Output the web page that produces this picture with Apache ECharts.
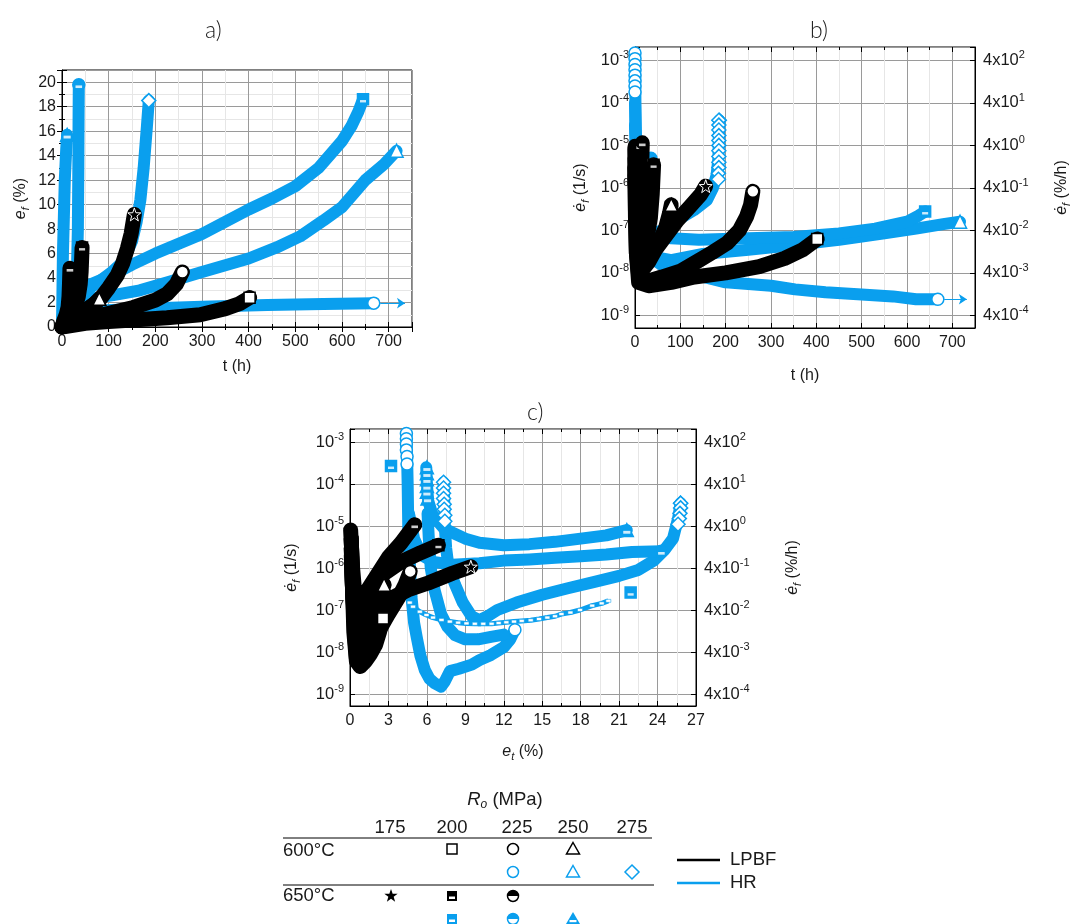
<!DOCTYPE html>
<html><head><meta charset="utf-8">
<script src="https://cdn.jsdelivr.net/npm/echarts@6/dist/echarts.min.js"></script>
<style>html,body{margin:0;padding:0;background:#fff}#c{width:1073px;height:924px}</style>
</head><body><div id="c"></div>
<script>
const BLUE = '#0A9FEE', BLACK = '#000';
const FONT = 'Liberation Sans';

// ---------- tick labels ----------
const xTicksA = [0,100,200,300,400,500,600,700];
const yTicksA = [0,2,4,6,8,10,12,14,16,18,20];
const xTicksC = [0,3,6,9,12,15,18,21,24,27];
const logDecades = [-9,-8,-7,-6,-5,-4,-3];

// ---------- panel a : t (h) vs e_f (%) ----------
const a_HR_600_225 = [[0,0],[5,0.8],[20,1.1],[60,1.3],[167,1.5],[300,1.65],[440,1.8],[560,1.88],[668,1.95]];
const a_HR_600_250 = [[0,0],[4,1.2],[20,1.8],[60,2.3],[110,2.6],[167,3.0],[230,3.7],[300,4.5],[400,5.6],[460,6.5],[510,7.4],[560,8.7],[600,9.8],[650,12.0],[690,13.3],[717,14.4]];
const a_HR_600_275 = [[0,0],[3,1.6],[15,2.4],[54,3.0],[104,4.4],[130,5.3],[150,7.0],[160,8.6],[168,10.4],[175,13.0],[182,16.4],[186,18.5]];
const a_HR_650_200 = [[0,0],[3,1.5],[15,2.6],[50,3.3],[100,4.1],[150,5.1],[200,6.0],[300,7.6],[400,9.6],[450,10.5],[500,11.5],[550,13.0],[600,15.2],[620,16.4],[635,17.6],[645,18.6]];
const a_HR_650_225 = [[0,0],[3,1.2],[10,1.8],[20,2.2],[28,2.8],[32,4.5],[34,8],[35,13],[35.5,17],[36,19.8]];
const a_HR_650_250 = [[0,0],[1,3],[2,6],[4,9],[6,12],[9,14.5],[11,15.7]];
const a_LP_600_200 = [[0,0],[50,0.3],[100,0.45],[160,0.6],[225,0.75],[296,1.0],[350,1.5],[380,1.9],[402,2.4]];
const a_LP_600_225 = [[0,0],[30,0.5],[82,0.95],[153,1.6],[200,2.2],[225,2.7],[245,3.5],[258,4.5]];
const a_LP_600_250 = [[0,0],[10,0.5],[30,1.0],[55,1.5],[70,1.9],[80,2.3]];
const a_LP_650_175 = [[0,0],[15,0.4],[46,1.1],[82,2.3],[100,3.2],[118,4.2],[130,5.2],[140,6.4],[148,7.6],[155,9.2]];
const a_LP_650_200 = [[0,0],[5,0.5],[15,1.0],[28,1.6],[35,2.5],[39,3.5],[41,4.5],[42,5.5],[43,6.5]];
const a_LP_650_225 = [[0,0],[4,0.5],[9,1.0],[13,1.6],[15,2.5],[16,3.5],[17,4.8]];
const a_arrow = [[682,1.95],[735,1.95]];

// ---------- panel b : t (h) vs strain rate (1/s) ----------
const b_HR_600_225 = [[0,1.5e-3],[0.5,5e-4],[1,1e-4],[2,2e-5],[3,4e-6],[5,8e-7],[8,2e-7],[15,6e-8],[30,2.5e-8],[60,1.5e-8],[100,1.1e-8],[200,6e-9],[300,5e-9],[353,4.1e-9],[420,3.5e-9],[500,3.1e-9],[569,2.8e-9],[620,2.4e-9],[668,2.4e-9]];
const b_HR_600_225_stack = [[0,1.5e-3],[0,1.1e-3],[0,8e-4],[0,6e-4],[0,4.5e-4],[0,3.3e-4],[0,2.5e-4],[0,1.8e-4]];
const b_HR_600_250 = [[5,2e-7],[15,5e-8],[30,2.5e-8],[80,2e-8],[150,2.8e-8],[250,3.5e-8],[350,4.5e-8],[450,6e-8],[550,8.5e-8],[620,1.1e-7],[680,1.4e-7],[717,1.6e-7]];
const b_HR_600_275 = [[0,5e-6],[3,5e-7],[10,1.3e-7],[30,8e-8],[60,1e-7],[95,1.8e-7],[130,3e-7],[159,5.2e-7],[172,1e-6],[180,2e-6],[184,5e-6],[185,1.5e-5],[186,3.9e-5]];
const b_HR_600_275_stack = [[185,3.9e-5],[185,3e-5],[185,2.3e-5],[185,1.7e-5],[185,1.3e-5],[185,1e-5],[185,7.5e-6],[185,5.5e-6],[185,4e-6],[185,3e-6],[184,2.2e-6],[184,1.6e-6]];
const b_HR_650_200 = [[2,5e-7],[10,1.5e-7],[30,8e-8],[80,6.5e-8],[141,6e-8],[250,6.5e-8],[350,7e-8],[450,8.5e-8],[530,1.1e-7],[600,1.6e-7],[625,2.2e-7],[640,2.8e-7]];
const b_HR_650_225 = [[0,3e-5],[2,5e-6],[5,2e-6],[10,1.5e-6],[20,1.6e-6],[30,2.5e-6],[35,5e-6]];
const b_HR_650_250 = [[0,1e-4],[1,2e-5],[3,8e-6],[6,5e-6],[9,6e-6],[11,1e-5]];
const b_LP_600_200 = [[0,2e-6],[1,2e-7],[3,3e-8],[8,6e-9],[30,5e-9],[80,6e-9],[131,8e-9],[200,1e-8],[274,1.4e-8],[330,2.2e-8],[370,3.5e-8],[402,6.3e-8]];
const b_LP_600_225 = [[0,3e-6],[1,3e-7],[3,3e-8],[9,7e-9],[30,6.5e-9],[59,8e-9],[100,1.1e-8],[131,1.7e-8],[170,3e-8],[203,5e-8],[230,1e-7],[246,2.1e-7],[255,4e-7],[260,8.3e-7]];
const b_LP_600_250 = [[0,3e-6],[2,3e-7],[6,6e-8],[15,3e-8],[23,2.4e-8],[40,3.5e-8],[55,6e-8],[68,1.2e-7],[76,2.5e-7],[80,4e-7]];
const b_LP_650_175 = [[0,5e-6],[2,3e-7],[5,6e-8],[17,1.2e-8],[30,1.8e-8],[45,3.5e-8],[70,8e-8],[95,1.8e-7],[120,3.5e-7],[145,7e-7],[156,1.1e-6]];
const b_LP_650_200 = [[0,8e-6],[1,1e-6],[3,2e-7],[8,6e-8],[18,5e-8],[28,8e-8],[34,2e-7],[38,7e-7],[41,3.5e-6]];
const b_LP_650_225 = [[0,9.5e-6],[1,1e-6],[3,2e-7],[6,1e-7],[10,2e-7],[13,1e-6],[15,4e-6],[16,1.15e-5]];
const b_arrow = [[682,2.4e-9],[732,2.4e-9]];

// ---------- panel c : e_t (%) vs strain rate (1/s) ----------
const c_HR_600_225 = [[4.4,1.6e-3],[4.45,5e-4],[4.5,1e-4],[4.55,8e-6],[4.7,8e-7],[4.8,2e-7],[5.0,5e-8],[5.2,2.3e-8],[5.5,8e-9],[5.84,3.7e-9],[6.2,2.3e-9],[6.6,1.8e-9],[7.1,1.5e-9],[7.4,2e-9],[7.8,3.5e-9],[8.5,4e-9],[9.5,5e-9],[10.1,6.4e-9],[11,8.5e-9],[12,1.3e-8],[12.5,2e-8],[12.87,3.4e-8]];
const c_HR_600_225_stack = [[4.4,1.6e-3],[4.4,1.2e-3],[4.4,9e-4],[4.4,6.5e-4],[4.45,4.5e-4],[4.45,3e-4]];
const c_HR_600_250 = [[6.05,2e-5],[6.15,5e-6],[6.3,1e-6],[6.6,3e-7],[7.1,8e-8],[7.6,4e-8],[8.2,2.5e-8],[9,2e-8],[10,2e-8],[11,2.3e-8],[12,2.6e-8]];
const c_HR_600_275 = [[7.3,1.1e-4],[7.35,4e-5],[7.4,1e-5],[7.5,3e-6],[7.7,1e-6],[8.2,4e-7],[8.8,1.5e-7],[9.5,7e-8],[10.1,5.7e-8],[10.7,7e-8],[11.5,1e-7],[13,1.5e-7],[15,2.3e-7],[17,3.3e-7],[19,4.6e-7],[21,6.5e-7],[22.5,9e-7],[23.7,1.5e-6],[24.5,2.6e-6],[25.2,5e-6],[25.6,1.5e-5],[25.8,3.5e-5]];
const c_HR_600_275_stack = [[7.3,1.1e-4],[7.3,8e-5],[7.3,6e-5],[7.3,4.5e-5],[7.35,3.3e-5],[7.35,2.5e-5],[7.4,1.8e-5],[7.4,1.3e-5],[25.8,3.5e-5],[25.8,2.7e-5],[25.75,2e-5],[25.7,1.5e-5],[25.6,1.1e-5]];
const c_HR_650_200 = [[4.66,1.5e-7],[4.92,1.2e-7],[5.45,9.1e-8],[5.97,7.6e-8],[6.48,6.6e-8],[7.14,5.8e-8],[7.79,5.3e-8],[8.44,5e-8],[9.09,4.8e-8],[9.74,4.7e-8],[10.4,4.7e-8],[11.05,4.7e-8],[11.6,4.9e-8],[12.2,5.1e-8],[12.8,5.3e-8],[13.4,5.5e-8],[14.1,5.7e-8],[14.75,6.1e-8],[15.4,6.6e-8],[16.0,7.1e-8],[16.5,8e-8],[17.2,8.7e-8],[17.95,1e-7],[18.9,1.27e-7],[19.64,1.44e-7],[20.16,1.65e-7]];
const c_HR_650_200_pts = [[3.2,2.7e-4],[21.9,2.6e-7]];
const c_HR_650_225 = [[4.6,2e-5],[5,5e-6],[5.6,2e-6],[6.5,1.4e-6],[8,1.2e-6],[10.1,1.3e-6],[12,1.5e-6],[14,1.6e-6],[16,1.75e-6],[18,1.9e-6],[20,2.1e-6],[22,2.4e-6],[24.3,2.5e-6]];
const c_HR_650_250 = [[5.95,2.5e-4],[6.0,1e-4],[6.1,4e-5],[6.4,2e-5],[6.75,1.4e-5],[7.3,9e-6],[8.05,6.8e-6],[9,5e-6],[10.1,4e-6],[12,3.5e-6],[14,3.7e-6],[16,4.2e-6],[18,5e-6],[20,6e-6],[21.6,8e-6]];
const c_HR_650_250_stack = [[6.0,2.5e-4],[6.0,1.8e-4],[6.0,1.3e-4],[6.0,9e-5],[6.0,6.5e-5],[6.05,4.5e-5]];
const c_LP_600_200 = [[0.1,2e-6],[0.2,3e-7],[0.3,3e-8],[0.5,6e-9],[0.8,4.5e-9],[1.2,6e-9],[1.6,9e-9],[2.0,1.5e-8],[2.3,3e-8],[2.58,6.3e-8]];
const c_LP_600_225 = [[0.1,3e-6],[0.2,3e-7],[0.35,3e-8],[0.5,7e-9],[0.9,7e-9],[1.5,1.2e-8],[2.2,3e-8],[3,8e-8],[3.8,2e-7],[4.3,4e-7],[4.7,8.3e-7]];
const c_LP_600_250 = [[0.1,3e-6],[0.2,3e-7],[0.35,6e-8],[0.6,2.5e-8],[1.0,3e-8],[1.5,5e-8],[2.0,1.2e-7],[2.4,2.5e-7],[2.66,4e-7]];
const c_LP_650_175 = [[0.1,5e-6],[0.2,3e-7],[0.4,3e-8],[0.6,1.5e-8],[1.0,2e-8],[1.6,5e-8],[2.5,1.2e-7],[3.5,2.1e-7],[4.5,3e-7],[6.1,4.4e-7],[8,7.5e-7],[9.43,1.07e-6]];
const c_LP_650_200 = [[0.1,5e-6],[0.2,5e-7],[0.4,8e-8],[0.7,6e-8],[1.2,1.5e-7],[2,4e-7],[2.7,7.5e-7],[4,1.4e-6],[5.5,2.3e-6],[6.9,3.5e-6]];
const c_LP_650_225 = [[0.05,8e-6],[0.2,1e-6],[0.4,2e-7],[0.7,1.2e-7],[1.2,2.5e-7],[2,6e-7],[3,1.8e-6],[4,4e-6],[5.05,1.07e-5]];

// ---------- legend table ----------
const legendStress = ['175','200','225','250','275'];
const legendTemps = ['600°C','650°C'];

// ================= build =================
const chart = echarts.init(document.getElementById('c'), null, {renderer:'canvas'});
const TXT = '#1a1a1a';
const FS = 16;
const supRich = {
  n:{fontSize:16.5, fontFamily:FONT, color:TXT, lineHeight:21},
  s:{fontSize:11, fontFamily:FONT, color:TXT, lineHeight:12, verticalAlign:'top'}
};
const nameRich = {
  i:{fontSize:FS, fontFamily:FONT, fontStyle:'italic', color:TXT, lineHeight:21},
  sub:{fontSize:11, fontFamily:FONT, fontStyle:'italic', color:TXT, lineHeight:12, verticalAlign:'bottom'},
  n:{fontSize:FS, fontFamily:FONT, color:TXT, lineHeight:21}
};
const LOGMIN = Math.pow(10,-9.296), LOGMAX = Math.pow(10,-2.685);
const LOGMIN_C = Math.pow(10,-9.286), LOGMAX_C = Math.pow(10,-2.69);

function isPow(v){ const l = Math.log10(v); return Math.abs(l-Math.round(l))<1e-6 && logDecades.indexOf(Math.round(l))>=0; }
const leftLog = v => isPow(v) ? '{n|10}{s|' + Math.round(Math.log10(v)) + '}' : '';
const rightLog = v => isPow(v) ? '{n|4x10}{s|' + (Math.round(Math.log10(v))+5) + '}' : '';

const axisCommon = {
  axisLine:{show:true, onZero:false, lineStyle:{color:'#000', width:1}},
  axisTick:{show:true, inside:true, length:5, lineStyle:{color:'#000'}},
  splitLine:{show:true, lineStyle:{color:'#9a9a9a', width:1}},
};
function xAxisLin(gi, min, max, interval, ticks, name, nameGap){
  return Object.assign({}, axisCommon, {
    type:'value', gridIndex:gi, min, max, interval,
    axisLabel:{fontSize:FS, fontFamily:FONT, color:TXT, margin:7, formatter: v => ticks.indexOf(v)>=0 ? String(v) : ''},
    minorTick:{show:true, splitNumber:2, length:3, lineStyle:{color:'#000'}},
    minorSplitLine:{show:true, lineStyle:{color:'#e6e6e6', width:1}},
    name, nameLocation:'middle', nameGap, nameTextStyle:{rich:nameRich, fontSize:FS, fontFamily:FONT, color:TXT}
  });
}
function xTop(gi, min, max, interval){
  return {type:'value', gridIndex:gi, position:'top', min, max, interval,
    axisLine:{show:false}, axisLabel:{show:false}, splitLine:{show:false},
    axisTick:{show:true, inside:true, length:5, lineStyle:{color:'#000'}},
    minorTick:{show:true, splitNumber:2, length:3, lineStyle:{color:'#000'}}};
}
function yLog(gi, pos, min, max, fmt, name, nameGap){
  return Object.assign({}, axisCommon, {
    type:'log', logBase:10, gridIndex:gi, position:pos, min, max,
    splitLine:{show: pos==='left', lineStyle:{color:'#9a9a9a', width:1}},
    axisLabel:{fontFamily:FONT, color:TXT, margin: pos==='left' ? 6 : 8, formatter:fmt, rich:supRich},
    name, nameLocation:'middle', nameGap, nameRotate:90,
    nameTextStyle:{rich:nameRich, fontSize:FS, fontFamily:FONT, color:TXT}
  });
}

const grids = [
  {left:62, top:70, width:350, height:257},
  {left:635, top:47, width:350, height:281},
  {left:350, top:429, width:346, height:277}
].map(g => Object.assign({show:true, borderColor:'#000', borderWidth:1, containLabel:false}, g));

const xAxes = [
  xAxisLin(0, 0, 750, 100, xTicksA, 't (h)', 32),
  xAxisLin(1, 0, 750, 100, xTicksA, 't (h)', 40),
  xAxisLin(2, 0, 27, 3, xTicksC, '{i|e}{sub|t}{n| (%)}', 35),
  xTop(0, 0, 750, 100), xTop(1, 0, 750, 100), xTop(2, 0, 27, 3)
];
const yAxes = [
  Object.assign({}, axisCommon, {
    type:'value', gridIndex:0, min:0, max:21, interval:2,
    axisLabel:{fontSize:FS, fontFamily:FONT, color:TXT, margin:6, formatter: v => yTicksA.indexOf(v)>=0 ? String(v) : ''},
    minorTick:{show:true, splitNumber:2, length:3, lineStyle:{color:'#000'}},
    minorSplitLine:{show:true, lineStyle:{color:'#e6e6e6', width:1}},
    name:'{i|e}{sub|f}{n| (%)}', nameLocation:'middle', nameGap:31, nameRotate:90,
    nameTextStyle:{rich:nameRich, fontSize:FS, fontFamily:FONT, color:TXT}
  }),
  yLog(1,'left', LOGMIN, LOGMAX, leftLog, '{i|ė}{sub|f}{n| (1/s)}', 44),
  yLog(1,'right', LOGMIN, LOGMAX, rightLog, '{i|ė}{sub|f}{n| (%/h)}', 76),
  yLog(2,'left', LOGMIN_C, LOGMAX_C, leftLog, '{i|ė}{sub|f}{n| (1/s)}', 48),
  yLog(2,'right', LOGMIN_C, LOGMAX_C, rightLog, '{i|ė}{sub|f}{n| (%/h)}', 86),
  {type:'value', gridIndex:0, position:'right', min:0, max:21, interval:2,
    axisLine:{show:false}, axisLabel:{show:false}, splitLine:{show:false},
    axisTick:{show:true, inside:true, length:5, lineStyle:{color:'#000'}},
    minorTick:{show:true, splitNumber:2, length:3, lineStyle:{color:'#000'}}}
];

const yIdx = [0,1,3];
const series = [];
const STAR = 'path://M0,-10L2.35,-3.24L9.51,-3.09L3.8,1.24L5.88,8.09L0,4L-5.88,8.09L-3.8,1.24L-9.51,-3.09L-2.35,-3.24Z';
const MK = {
  sq:{symbol:'rect', size:11, fill:'open'},
  ci:{symbol:'circle', size:12, fill:'open'},
  tr:{symbol:'triangle', size:13, fill:'open'},
  di:{symbol:'diamond', size:14, fill:'open'},
  st:{symbol:STAR, size:13, fill:'full'},
  hsq:{symbol:'rect', size:11, fill:'half'},
  hci:{symbol:'circle', size:12, fill:'half'},
  htr:{symbol:'triangle', size:13, fill:'half'}
};
function markers(gi, pts, color, mk, z){
  const s = MK[mk];
  series.push({type:'scatter', xAxisIndex:gi, yAxisIndex:yIdx[gi], data:pts, symbol:s.symbol, symbolSize:s.size,
    silent:true, animation:false, z:z||6,
    itemStyle:{color: s.fill==='open' ? '#fff' : color, borderColor: s.fill==='full' ? '#fff' : color,
      borderWidth: s.fill==='full' ? 1 : 1.5, opacity:1}});
  if (s.fill==='half') {
    series.push({type:'scatter', xAxisIndex:gi, yAxisIndex:yIdx[gi], data:pts, symbol:'rect',
      symbolSize:[s.size*0.55, s.size*0.22], symbolOffset:[0, s.size*0.17], silent:true, animation:false, z:(z||6)+1,
      itemStyle:{color:'#fff'}});
  }
}
function curve(gi, data, color, mk, opts){
  opts = opts || {};
  series.push({type:'line', xAxisIndex:gi, yAxisIndex:yIdx[gi], data, symbol:'none', silent:true, animation:false,
    lineStyle:{color, width: opts.width || (color===BLACK?15:12), cap:'round', join:'round'}, z: color===BLACK?4:2});
  if (opts.noEnd) return;
  markers(gi, [data[data.length-1]], color, mk, color===BLACK?6:3);
}
function arrow(gi, pts){
  series.push({type:'line', xAxisIndex:gi, yAxisIndex:yIdx[gi], data:[], silent:true, animation:false,
    markLine:{silent:true, animation:false, symbol:['none','arrow'], symbolSize:8, label:{show:false},
      lineStyle:{color:BLUE, width:1, type:'solid'},
      data:[[{coord:pts[0]},{coord:pts[1]}]]}});
}
function minorLog(gi){
  const vals = [];
  for (let k=-10;k<=-3;k++) for (let m=2;m<=9;m++) vals.push(m*Math.pow(10,k));
  series.push({type:'line', xAxisIndex:gi, yAxisIndex:yIdx[gi], data:[], silent:true, animation:false, z:1,
    markLine:{silent:true, animation:false, z:1, symbol:['none','none'], label:{show:false},
      lineStyle:{color:'#e4e4e4', width:1, type:'solid'},
      data: vals.map(v => ({yAxis:v}))}});
}

// panel a
curve(0, a_HR_600_225, BLUE, 'ci'); arrow(0, a_arrow);
curve(0, a_HR_600_250, BLUE, 'tr');
curve(0, a_HR_650_200, BLUE, 'hsq');
curve(0, a_HR_600_275, BLUE, 'di');
curve(0, a_HR_650_225, BLUE, 'hci');
curve(0, a_HR_650_250, BLUE, 'htr');
curve(0, a_LP_600_200, BLACK, 'sq');
curve(0, a_LP_600_225, BLACK, 'ci');
curve(0, a_LP_600_250, BLACK, 'tr');
curve(0, a_LP_650_175, BLACK, 'st');
curve(0, a_LP_650_200, BLACK, 'hsq');
curve(0, a_LP_650_225, BLACK, 'hci');
// panel b
minorLog(1);
curve(1, b_HR_600_225, BLUE, 'ci'); arrow(1, b_arrow);
markers(1, b_HR_600_225_stack, BLUE, 'ci', 3);
curve(1, b_HR_600_250, BLUE, 'tr');
curve(1, b_HR_650_200, BLUE, 'hsq');
curve(1, b_HR_600_275, BLUE, 'di');
markers(1, b_HR_600_275_stack, BLUE, 'di', 3);
curve(1, b_HR_650_225, BLUE, 'hci');
curve(1, b_HR_650_250, BLUE, 'htr');
curve(1, b_LP_600_200, BLACK, 'sq');
curve(1, b_LP_600_225, BLACK, 'ci');
curve(1, b_LP_600_250, BLACK, 'tr');
curve(1, b_LP_650_175, BLACK, 'st');
curve(1, b_LP_650_200, BLACK, 'hsq');
curve(1, b_LP_650_225, BLACK, 'hci');
// panel c
minorLog(2);
curve(2, c_HR_600_225, BLUE, 'ci');
markers(2, c_HR_600_225_stack, BLUE, 'ci', 3);
curve(2, c_HR_600_250, BLUE, 'tr', {noEnd:true});
curve(2, c_HR_600_275, BLUE, 'di');
markers(2, c_HR_600_275_stack, BLUE, 'di', 3);
series.push({type:'line', xAxisIndex:2, yAxisIndex:3, data:c_HR_650_200, symbol:'rect', symbolSize:[5,3], showSymbol:true,
  silent:true, animation:false, z:3, lineStyle:{color:BLUE, width:5}, itemStyle:{color:'#fff', borderColor:BLUE, borderWidth:0.5}});
markers(2, c_HR_650_200_pts, BLUE, 'hsq', 3);
curve(2, c_HR_650_225, BLUE, 'hci');
curve(2, c_HR_650_250, BLUE, 'htr');
markers(2, c_HR_650_250_stack, BLUE, 'htr', 3);
curve(2, c_LP_600_200, BLACK, 'sq');
curve(2, c_LP_600_225, BLACK, 'ci');
curve(2, c_LP_600_250, BLACK, 'tr');
curve(2, c_LP_650_175, BLACK, 'st');
curve(2, c_LP_650_200, BLACK, 'hsq');
curve(2, c_LP_650_225, BLACK, 'hci');

// ---------- legend graphic ----------
const G = [];
const LFS = 18.5;
const tstyle = (text, x, y, align) => ({type:'text', x, y, silent:true,
  style:{text, fill:TXT, font:LFS+'px "'+FONT+'"', align:align||'center', verticalAlign:'middle'}});
G.push({type:'text', x:505, y:800, silent:true, style:{text:'{i|R}{sub|o}{n| (MPa)}', rich:{
  i:{fontSize:LFS, fontFamily:FONT, fontStyle:'italic', fill:TXT, lineHeight:22},
  sub:{fontSize:12, fontFamily:FONT, fontStyle:'italic', fill:TXT, lineHeight:12, verticalAlign:'bottom'},
  n:{fontSize:LFS, fontFamily:FONT, fill:TXT, lineHeight:22}}, align:'center', verticalAlign:'middle'}});
const colX = [390,452,517,573,632];
legendStress.forEach((s,i)=>G.push(tstyle(s, colX[i], 828)));
G.push({type:'line', silent:true, shape:{x1:283,y1:838,x2:652,y2:838}, style:{stroke:'#000', lineWidth:1}});
G.push({type:'line', silent:true, shape:{x1:283,y1:885,x2:654,y2:885}, style:{stroke:'#000', lineWidth:1}});
G.push(tstyle(legendTemps[0], 283, 851, 'left'));
G.push(tstyle(legendTemps[1], 283, 896, 'left'));
function gSym(kind, color, cx, cy){
  const r = 5.5;
  if (kind==='sq') G.push({type:'rect', silent:true, shape:{x:cx-5,y:cy-5,width:10,height:10}, style:{fill:'#fff', stroke:color, lineWidth:1.5}});
  if (kind==='ci') G.push({type:'circle', silent:true, shape:{cx,cy,r}, style:{fill:'#fff', stroke:color, lineWidth:1.5}});
  if (kind==='tr') G.push({type:'polygon', silent:true, shape:{points:[[cx,cy-6.5],[cx+6.5,cy+5],[cx-6.5,cy+5]]}, style:{fill:'#fff', stroke:color, lineWidth:1.5}});
  if (kind==='di') G.push({type:'polygon', silent:true, shape:{points:[[cx,cy-7],[cx+7,cy],[cx,cy+7],[cx-7,cy]]}, style:{fill:'#fff', stroke:color, lineWidth:1.5}});
  if (kind==='st') { const pts=[]; for(let k=0;k<10;k++){const a=-Math.PI/2+k*Math.PI/5; const rr=k%2?2.8:7; pts.push([cx+rr*Math.cos(a), cy+rr*Math.sin(a)]);} G.push({type:'polygon', silent:true, shape:{points:pts}, style:{fill:color}}); }
  if (kind==='hsq') { G.push({type:'rect', silent:true, shape:{x:cx-5,y:cy-5,width:10,height:10}, style:{fill:color}}); G.push({type:'rect', silent:true, shape:{x:cx-3,y:cy+0.5,width:6,height:2.5}, style:{fill:'#fff'}}); }
  if (kind==='hci') { G.push({type:'circle', silent:true, shape:{cx,cy,r}, style:{fill:'#fff', stroke:color, lineWidth:1.5}}); G.push({type:'sector', silent:true, shape:{cx,cy,r:r,r0:0,startAngle:Math.PI,endAngle:2*Math.PI}, style:{fill:color}}); }
  if (kind==='htr') { G.push({type:'polygon', silent:true, shape:{points:[[cx,cy-7],[cx+7,cy+5],[cx-7,cy+5]]}, style:{fill:color}}); G.push({type:'rect', silent:true, shape:{x:cx-3.5,y:cy+1,width:7,height:2.2}, style:{fill:'#fff'}}); }
}
gSym('sq',BLACK,452,849); gSym('ci',BLACK,513,849); gSym('tr',BLACK,573,849);
gSym('ci',BLUE,513,872); gSym('tr',BLUE,573,872); gSym('di',BLUE,632,872);
gSym('st',BLACK,391,896); gSym('hsq',BLACK,452,896); gSym('hci',BLACK,513,896);
gSym('hsq',BLUE,452,919); gSym('hci',BLUE,513,919); gSym('htr',BLUE,573,919);
G.push({type:'line', silent:true, shape:{x1:677,y1:860,x2:720,y2:860}, style:{stroke:BLACK, lineWidth:2.5}});
G.push({type:'line', silent:true, shape:{x1:677,y1:883,x2:720,y2:883}, style:{stroke:BLUE, lineWidth:2.5}});
G.push(tstyle('LPBF', 730, 860, 'left'));
G.push(tstyle('HR', 730, 883, 'left'));

const titleStyle = {fontSize:23, fontFamily:'Lato', fontWeight:300, color:'#222'};
chart.setOption({
  animation:false,
  textStyle:{fontFamily:FONT},
  title:[
    {text:'a)', left:200, top:14, textStyle:titleStyle},
    {text:'b)', left:805, top:14, textStyle:titleStyle},
    {text:'c)', left:522, top:396, textStyle:titleStyle}
  ],
  grid:grids, xAxis:xAxes, yAxis:yAxes, series, graphic:G
});
</script></body></html>
